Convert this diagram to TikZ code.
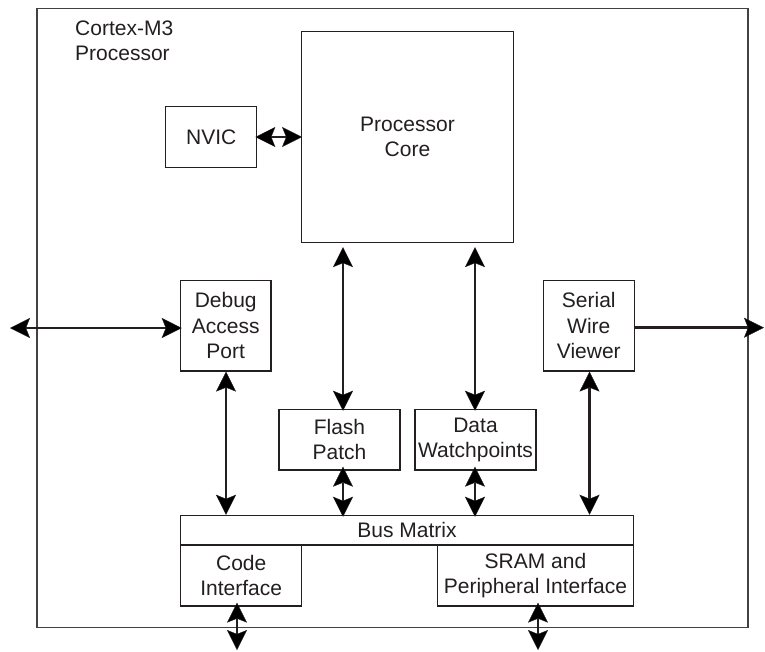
\documentclass[tikz,border=0pt]{standalone}
\usepackage{fontspec}
\setmainfont{Liberation Sans}
\usetikzlibrary{arrows.meta}
\definecolor{ink}{HTML}{231F20}
\tikzset{
  box/.style={draw=ink, line width=1.2pt, fill=white, inner sep=0pt, align=center,
    font=\fontsize{21}{25.5}\selectfont, text=ink},
  tip/.tip={Stealth[length=20pt,width=20pt,inset=4pt,fill=black,line width=0.4pt]},
  conn/.style={draw=ink, line width=2.6pt, tip-tip},
  oneway/.style={draw=ink, line width=2.6pt, -tip},
}
\begin{document}
\begin{tikzpicture}[x=1pt,y=-1pt]
\useasboundingbox (0,0) rectangle (765,651);
% outer frame
\draw[draw=ink!85, line width=1.4pt] (37,8.5) rectangle (748,627.5);
\node[anchor=west, align=left, inner sep=0pt, font=\fontsize{21}{25.5}\selectfont, text=ink] (title) at (75,41) {Cortex-M3\\Processor};
% boxes
\node[box, minimum width=211.6pt, minimum height=211pt] (core) at (407.5,137) {Processor\\Core};
\node[box, minimum width=91pt, minimum height=60.3pt] (nvic) at (211.2,137) {NVIC};
\node[box, minimum width=90.7pt, minimum height=90.3pt] (dap) at (225.7,325.8) {Debug\\Access\\Port};
\node[box, minimum width=91pt, minimum height=90.3pt] (swv) at (588.8,325.8) {Serial\\Wire\\Viewer};
\node[box, minimum width=121pt, minimum height=60.7pt] (flash) at (339.5,439.7) {Flash\\Patch};
\node[box, minimum width=121pt, minimum height=60.7pt] (data) at (475.5,439.7) {Data\\Watchpoints};
\node[box, minimum width=452.6pt, minimum height=29.7pt] (bus) at (407,530.2) {Bus Matrix};
\node[box, minimum width=121pt, minimum height=61pt] (code) at (241.2,575.5) {Code\\Interface};
\node[box, minimum width=195.6pt, minimum height=61pt] (sram) at (535.5,575.5) {SRAM and\\Peripheral Interface};
% helper coordinates
\coordinate (xf) at (343,0);
\coordinate (xd) at (475,0);
\coordinate (xdap) at (226,0);
\coordinate (xswv) at (589.5,0);
\coordinate (lend) at (10,328);
\coordinate (rend) at (764,327.7);
\coordinate (cend) at (237,650);
\coordinate (send) at (538,650);
% connectors
\draw[conn] ([xshift=-2pt]nvic.east) -- ([xshift=1pt]core.west);
\draw[conn] (lend) -- ([xshift=2pt]dap.west |- lend);
\draw[oneway] (swv.east |- rend) -- (rend);
\draw[conn] ([yshift=-4pt]core.south -| xf) -- ([yshift=-2pt]flash.north -| xf);
\draw[conn] ([yshift=-4pt]core.south -| xd) -- ([yshift=-2pt]data.north -| xd);
\draw[conn] ([yshift=4pt]flash.south -| xf) -- ([yshift=-2pt]bus.north -| xf);
\draw[conn] ([yshift=4pt]data.south -| xd) -- ([yshift=-2pt]bus.north -| xd);
\draw[conn] (dap.south -| xdap) -- (bus.north -| xdap);
\draw[conn] (swv.south -| xswv) -- (bus.north -| xswv);
\draw[conn] ([yshift=4pt]code.south -| cend) -- (cend);
\draw[conn] ([yshift=4pt]sram.south -| send) -- (send);
\end{tikzpicture}
\end{document}
